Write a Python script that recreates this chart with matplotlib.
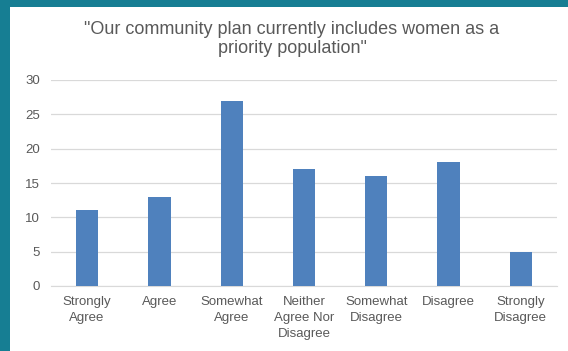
import matplotlib.pyplot as plt
from matplotlib.patches import Rectangle
import numpy as np

plt.rcParams['font.family'] = ['Liberation Sans', 'DejaVu Sans']

categories = ['Strongly\nAgree', 'Agree', 'Somewhat\nAgree', 'Neither\nAgree Nor\nDisagree',
              'Somewhat\nDisagree', 'Disagree', 'Strongly\nDisagree']
counts = [11, 13, 27, 17, 16, 18, 5]
yticks = [0, 5, 10, 15, 20, 25, 30]

TEAL = '#167e93'
BLUE = '#4f81bd'
GREY = '#595959'


def main():
    fig = plt.figure(figsize=(5.68, 3.51), dpi=100, facecolor=TEAL)
    # white card over the teal frame
    fig.patches.append(Rectangle((10 / 568, 0), 1, 1 - 7 / 351, transform=fig.transFigure,
                                 facecolor='white', edgecolor='none', zorder=-5))

    ax = fig.add_axes([51 / 568, 1 - 286 / 351, 506 / 568, 206 / 351])
    ax.set_zorder(2)
    ax.set_facecolor('none')
    x = np.arange(len(categories))
    ax.bar(x, counts, width=0.31, color=BLUE, zorder=3)

    ax.set_xlim(-0.5, len(categories) - 0.5)
    ax.set_ylim(0, 30)
    ax.set_yticks(yticks)
    ax.set_xticks(x)
    ax.set_xticklabels(categories, fontsize=9.5, color=GREY, linespacing=1.45)
    ax.tick_params(axis='y', labelsize=9.5, labelcolor=GREY, length=0, pad=8)
    ax.tick_params(axis='x', length=0, pad=7)
    ax.grid(axis='y', color='#d9d9d9', linewidth=0.9, zorder=0)
    for s in ['top', 'right', 'left']:
        ax.spines[s].set_visible(False)
    ax.spines['bottom'].set_color('#d9d9d9')

    fig.text(292 / 568, 1 - 39 / 351, '"Our community plan currently includes women as a\npriority population"',
             ha='center', va='center', fontsize=13, color=GREY, linespacing=1.15)

    fig.savefig('out.png', dpi=100, facecolor=TEAL)


if __name__ == '__main__':
    main()
